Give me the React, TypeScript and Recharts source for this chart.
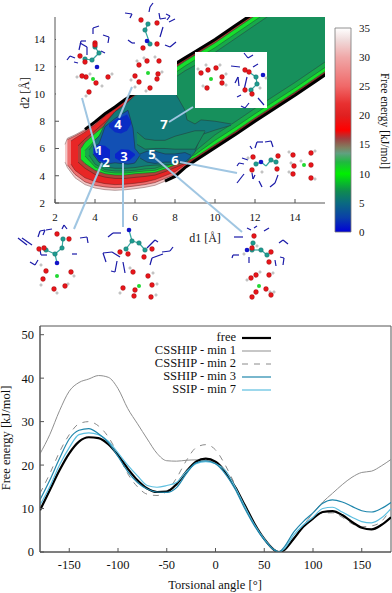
import React from "react";
import {
  Area,
  ComposedChart,
  Bar,
  BarChart,
  LabelList,
  Legend,
  Line,
  LineChart,
  ReferenceArea,
  ReferenceLine,
  Scatter,
  XAxis,
  YAxis,
} from "recharts";

const FONT = "'Liberation Serif', 'Times New Roman', serif";

// ---------- free energy map, d1 / d2 in angstrom ----------
const outerX = [2.5, 2.62, 3, 3.5, 4, 4.5, 5, 5.5, 6, 6.5, 7, 7.5, 8, 8.5, 9, 10, 11, 12, 13, 14, 15, 16];
const outerLo = [5.0, 4.6, 3.85, 3.35, 3.1, 2.98, 2.93, 2.97, 3.05, 3.15, 3.3, 3.6, 3.95, 4.6, 5.1, 6.05, 7.0, 8.0, 8.95, 9.9, 10.9, 11.9];
const outerHi = [6.3, 6.75, 7.0, 7.4, 7.95, 8.55, 9.05, 9.6, 10.05, 10.5, 11, 11.5, 12.2, 12.65, 13.1, 14, 15, 16, 17, 18, 19, 20];

const redAX = [2.62, 3, 3.5, 4, 4.5, 5, 5.5, 6, 6.5, 7, 7.5, 8, 8.5, 9, 16];
const redALo = [4.8, 4.1, 3.55, 3.3, 3.18, 3.12, 3.16, 3.25, 3.35, 3.5, 3.8, 4.1, 4.7, 5.15, 11.95];
const redAHi = [6.65, 6.92, 7.32, 7.87, 8.47, 8.97, 9.52, 9.97, 10.45, 10.92, 11.42, 12.12, 12.57, 13.02, 20];

const redBX = [2.8, 3, 3.5, 4, 4.5, 5, 5.5, 6, 6.5, 7, 7.5, 8, 8.5, 9, 16];
const redBLo = [4.85, 4.4, 3.85, 3.58, 3.42, 3.35, 3.38, 3.45, 3.55, 3.72, 4.0, 4.3, 4.8, 5.2, 12];
const redBHi = [6.55, 6.75, 7.2, 7.75, 8.38, 8.9, 9.45, 9.92, 10.4, 10.88, 11.38, 12.08, 12.52, 12.97, 20];

const darkRedX = [3.15, 3.5, 4, 4.5, 5, 5.5, 6, 6.5, 7, 7.5, 8, 8.5, 9, 16];
const darkRedLo = [5.0, 4.55, 4.1, 3.9, 3.8, 3.8, 3.88, 3.95, 4.05, 4.3, 4.6, 4.9, 5.25, 12.05];
const darkRedHi = [6.2, 6.7, 7.3, 7.95, 8.7, 9.3, 9.85, 10.35, 10.85, 11.35, 12, 12.45, 12.9, 19.9];

const brightX = [3.3, 3.5, 4, 4.5, 5, 5.5, 6, 6.5, 7, 7.5, 8, 8.5, 9, 10, 11, 12, 13, 14, 15, 16];
const brightLo = [5.2, 4.9, 4.4, 4.15, 4.05, 4.05, 4.15, 4.2, 4.25, 4.5, 4.8, 5.0, 5.35, 6.3, 7.25, 8.25, 9.2, 10.15, 11.15, 12.15];
const brightHi = [6.0, 6.45, 7.1, 7.7, 8.55, 9.15, 9.75, 10.3, 10.8, 11.3, 11.9, 12.4, 12.85, 13.75, 14.75, 15.75, 16.75, 17.75, 18.75, 19.75];

const stripeX = [3.5, 4, 4.5, 5, 5.5, 6, 6.5, 7, 7.5, 8, 8.5, 9, 10, 11, 12, 13, 14, 15, 16];
const stripeLo = [5.45, 4.65, 4.3, 4.2, 4.2, 4.28, 4.35, 4.4, 4.65, 4.98, 5.2, 5.55, 6.6, 7.55, 8.55, 9.5, 10.45, 11.45, 12.45];
const stripeHi = [5.85, 6.6, 7.4, 8.2, 8.9, 9.5, 10, 10.5, 11, 11.55, 12.05, 12.5, 13.4, 14.4, 15.4, 16.4, 17.4, 18.4, 19.4];

const mainX = [3.7, 4, 4.5, 5, 5.5, 6, 6.5, 7, 7.5, 8, 8.5, 9, 10, 11, 12, 13, 14, 15, 16];
const mainLo = [5.5, 4.85, 4.45, 4.35, 4.35, 4.4, 4.5, 4.55, 4.8, 5.15, 5.4, 5.8, 7.0, 7.95, 8.95, 9.9, 10.85, 11.85, 12.85];
const mainHi = [5.9, 6.5, 7.2, 8, 8.7, 9.3, 9.8, 10.2, 10.7, 11.2, 11.7, 12.1, 13.05, 14.05, 15.05, 16.05, 17.05, 18.05, 19.05];

const tealX = [3.9, 4.2, 4.5, 5, 5.5, 6, 6.5, 7, 7.5, 8, 8.5, 8.6, 9, 9.3, 10, 10.8];
const tealLo = [5.6, 5.0, 4.65, 4.55, 4.55, 4.6, 4.72, 4.78, 4.8, 4.85, 4.95, 5.0, 5.75, 7.0, 7.35, 7.7];
const tealHi = [6.5, 6.9, 7.8, 8.7, 9.2, 9.9, 10.1, 10.1, 10.1, 10.1, 8.8, 8.1, 7.8, 8.1, 8.0, 7.8];

const tongueX = [6.1, 6.5, 7, 7.5, 8, 8.5, 9, 9.5];
const tongueLo = [6.3, 5.95, 6.0, 6.0, 5.95, 5.95, 5.95, 7.25];
const tongueHi = [7.2, 6.7, 6.6, 6.6, 6.9, 7.1, 7.3, 7.3];

const armX = [6.25, 6.6, 7, 7.5, 8, 8.5, 8.8];
const armLo = [5.3, 5.0, 4.9, 5.0, 5.0, 5.0, 5.4];
const armHi = [5.6, 5.8, 5.8, 5.6, 5.6, 5.7, 5.5];

const blueX = [3.9, 4.2, 4.5, 5, 5.3, 5.65, 5.9, 6, 6.25];
const blueLo = [5.6, 5.0, 4.85, 4.95, 4.9, 4.85, 4.9, 4.95, 5.5];
const blueHi = [6.1, 6.35, 7.6, 8.2, 8.5, 8.8, 7.5, 6.0, 5.55];

const wellAX = [3.95, 4.2, 4.5, 4.75];
const wellALo = [5.6, 5.1, 5.0, 5.3];
const wellAHi = [6.1, 6.25, 6.2, 5.9];

const wellBX = [5, 5.3, 5.7, 6];
const wellBLo = [5.3, 5.05, 5.1, 5.5];
const wellBHi = [5.6, 5.95, 5.9, 5.6];

const wellCX = [4.7, 5, 5.3, 5.6, 5.8];
const wellCLo = [7.6, 7.2, 7.1, 7.3, 7.8];
const wellCHi = [7.8, 8.1, 8.3, 8.5, 8.0];

const mapTicksX = [2, 4, 6, 8, 10, 12, 14];
const mapTicksY = [2, 4, 6, 8, 10, 12, 14];

const band = (x: number[], lo: number[], hi: number[]) =>
  x.map((d, i) => ({ d1: d, range: [lo[i], hi[i]] }));
const edge = (x: number[], y: number[], from: number) =>
  x.map((d, i) => ({ d1: d, y: y[i] })).filter((p) => p.d1 >= from);

const layers = [
  { name: "rim", data: band(outerX, outerLo, outerHi), fill: "#f4c6c6", stroke: "#8a6a6a" },
  { name: "redA", data: band(redAX, redALo, redAHi), fill: "#ee6f6f", stroke: "#7a3030" },
  { name: "redB", data: band(redBX, redBLo, redBHi), fill: "#e82626", stroke: "#7a2020" },
  { name: "darkRed", data: band(darkRedX, darkRedLo, darkRedHi), fill: "#b04038", stroke: "#602020" },
  { name: "bright", data: band(brightX, brightLo, brightHi), fill: "#16e02c", stroke: "#1a6030" },
  { name: "stripe", data: band(stripeX, stripeLo, stripeHi), fill: "#18a84a", stroke: "#1a6030" },
  { name: "main", data: band(mainX, mainLo, mainHi), fill: "#17905c", stroke: "#234a44" },
  { name: "teal", data: band(tealX, tealLo, tealHi), fill: "#137a78", stroke: "#23403f" },
  { name: "tongue", data: band(tongueX, tongueLo, tongueHi), fill: "#178a62", stroke: "#23403f" },
  { name: "arm", data: band(armX, armLo, armHi), fill: "#105f9a", stroke: "#1c3048" },
  { name: "blue", data: band(blueX, blueLo, blueHi), fill: "#1250b4", stroke: "#1c3048" },
  { name: "wellA", data: band(wellAX, wellALo, wellAHi), fill: "#0a24cc", stroke: "none" },
  { name: "wellB", data: band(wellBX, wellBLo, wellBHi), fill: "#0a24cc", stroke: "none" },
  { name: "wellC", data: band(wellCX, wellCLo, wellCHi), fill: "#0a2cc4", stroke: "none" },
];

// ---------- colour bar ----------
const barValue = [{ name: "G", value: 35 }];
const barTicks = [0, 5, 10, 15, 20, 25, 30, 35];
const barStops: [number, string][] = [
  [0, "#0000d8"],
  [2.5, "#0a40a8"],
  [5, "#0a6a80"],
  [7, "#0f8a50"],
  [10, "#00f000"],
  [12, "#20b840"],
  [13.5, "#60a080"],
  [14.5, "#808060"],
  [16, "#a04040"],
  [17.5, "#ff0000"],
  [20, "#e02020"],
  [22, "#e83030"],
  [25, "#f06868"],
  [30, "#f0a8a8"],
  [33, "#f0dcdc"],
  [35, "#ffffff"],
];

// ---------- molecule insets, page pixels ----------
const insetBoxes = [
  [56, 0, 177, 95],
  [195, 52, 267, 108],
];
const oxygen = [
  [80, 56], [95, 43], [95, 45], [85, 62], [86, 77], [82, 76], [96, 83], [108, 77], [89, 92],
  [141, 20], [157, 23], [157, 44], [143, 48], [139, 65], [147, 61], [159, 61], [135, 76], [158, 74], [157, 79], [139, 82], [150, 88],
  [201, 73], [208, 70], [216, 68], [222, 77], [222, 83], [207, 88], [245, 70], [249, 72], [245, 90], [252, 94],
  [57, 234], [69, 239], [39, 249], [44, 248], [46, 271], [71, 272], [43, 279], [65, 286], [54, 289],
  [120, 252], [128, 254], [144, 257], [152, 249], [133, 272], [148, 276], [152, 285], [123, 288], [135, 290], [134, 296], [151, 297],
  [253, 157], [252, 170], [278, 156], [277, 169], [293, 155], [294, 166], [293, 174], [311, 153], [311, 165], [311, 178],
  [254, 236], [252, 248], [271, 252], [269, 262], [256, 275], [251, 278], [269, 275], [266, 289], [256, 292], [271, 295], [252, 297],
];
const carbon = [
  [85, 59], [92, 60], [99, 53], [95, 47],
  [148, 24], [145, 30], [150, 44],
  [256, 77], [257, 84], [251, 90],
  [63, 239], [62, 248], [46, 250], [55, 254],
  [132, 241], [139, 243], [126, 249], [145, 250],
  [256, 164], [271, 160], [276, 162],
  [253, 243], [261, 250], [267, 255], [252, 250],
];
const nitrogen = [[97, 67], [147, 41], [263, 75], [57, 263], [129, 230], [261, 162], [247, 250]];
const ion = [[93, 79], [148, 73], [211, 79], [57, 276], [139, 286], [304, 165], [259, 286]];
const hydrogen = [
  [77, 77], [90, 74], [102, 86], [112, 74], [86, 96], [137, 61], [144, 58], [155, 57], [131, 80], [162, 72], [135, 87], [146, 91],
  [198, 69], [206, 65], [220, 65], [226, 74], [226, 85], [203, 86], [260, 88], [266, 78],
  [41, 265], [74, 276], [41, 285], [68, 284], [57, 293], [120, 293], [130, 268], [153, 273], [157, 284], [156, 295],
  [289, 152], [291, 163], [289, 172], [315, 151], [315, 179], [301, 161], [262, 172], [248, 158],
  [260, 272], [247, 280], [273, 273], [270, 292], [274, 292], [257, 246], [244, 254],
];
const bonds = [
  [85, 59, 92, 60], [92, 60, 99, 53], [99, 53, 95, 47],
  [148, 24, 145, 30], [145, 30, 150, 44],
  [256, 77, 257, 84], [257, 84, 251, 90], [249, 72, 256, 77],
  [63, 239, 62, 248], [62, 248, 55, 254], [55, 254, 46, 250], [57, 263, 55, 254],
  [132, 241, 139, 243], [132, 241, 126, 249], [139, 243, 145, 250], [129, 230, 132, 241],
  [256, 164, 261, 162], [261, 162, 266, 166], [266, 166, 271, 160], [271, 160, 276, 162],
  [253, 243, 252, 250], [252, 250, 261, 250], [261, 250, 267, 255],
];
const brackets = [
  [93, 34, 93, 28], [93, 28, 99, 26], [103, 35, 109, 37], [109, 37, 108, 43], [79, 50, 81, 41], [81, 41, 86, 41],
  [80, 43, 87, 47], [87, 47, 87, 55], [67, 60, 70, 56], [70, 56, 75, 58], [74, 62, 78, 63], [101, 51, 105, 53],
  [125, 13, 132, 14], [132, 14, 130, 18], [153, 3, 150, 7], [150, 7, 149, 12], [159, 13, 160, 19], [160, 19, 166, 18],
  [166, 14, 170, 16], [170, 16, 167, 20], [169, 22, 175, 19], [163, 27, 160, 37], [176, 42, 170, 47], [170, 47, 165, 45],
  [128, 40, 132, 43], [132, 43, 135, 43],
  [231, 66, 240, 67], [244, 53, 248, 58], [248, 58, 253, 55], [253, 67, 258, 64], [235, 83, 238, 77], [238, 77, 239, 86],
  [247, 77, 244, 90], [237, 97, 241, 95], [241, 106, 245, 108], [245, 108, 249, 103], [258, 98, 264, 105],
  [18, 238, 27, 245], [22, 238, 32, 245], [38, 237, 40, 231], [40, 231, 45, 230], [45, 230, 43, 235], [46, 230, 52, 229],
  [62, 229, 64, 225], [64, 225, 67, 229], [80, 238, 87, 237], [87, 237, 88, 243], [40, 250, 41, 255], [41, 255, 47, 255],
  [72, 254, 77, 254], [30, 262, 35, 265], [35, 265, 38, 260],
  [108, 237, 113, 233], [113, 233, 121, 233], [106, 262, 103, 253], [103, 253, 112, 252], [112, 252, 120, 257],
  [117, 261, 115, 272], [115, 272, 111, 271], [123, 262, 125, 273], [147, 248, 155, 240], [155, 240, 158, 242],
  [150, 265, 152, 258], [152, 258, 163, 254], [162, 252, 170, 251], [170, 251, 173, 247],
  [250, 146, 252, 149], [255, 148, 257, 142], [257, 142, 263, 142], [265, 142, 271, 141], [271, 141, 273, 147],
  [237, 166, 239, 163], [239, 163, 244, 164], [242, 158, 248, 160], [244, 174, 237, 183], [252, 173, 253, 179],
  [253, 179, 255, 175], [259, 181, 262, 187], [270, 187, 275, 183], [275, 183, 278, 175],
  [247, 228, 251, 230], [254, 228, 257, 226], [264, 231, 269, 228], [234, 237, 243, 237], [232, 258, 233, 255],
  [233, 255, 239, 255], [249, 257, 249, 263], [279, 243, 283, 240], [283, 240, 288, 244], [280, 257, 284, 258],
  [284, 258, 283, 265], [275, 260, 276, 266],
];
const leaders = [
  [82, 98, 97, 153],
  [132, 87, 119, 118],
  [193, 107, 169, 122],
  [102, 163, 74, 229],
  [123, 163, 123, 227],
  [155, 158, 242, 232],
  [180, 162, 237, 173],
];
const minimaLabels = [
  { x: 99, y: 150, label: "1" },
  { x: 106, y: 162, label: "2" },
  { x: 124, y: 156, label: "3" },
  { x: 118, y: 124, label: "4" },
  { x: 152, y: 154, label: "5" },
  { x: 175, y: 160, label: "6" },
  { x: 164, y: 124, label: "7" },
];

const atoms = (list: number[][]) => list.map(([x, y]) => ({ x, y }));
const ball = (r: number, fill: string, stroke = "none") => (p: any) => (
  <circle cx={p.cx} cy={p.cy} r={r} fill={fill} stroke={stroke} strokeWidth={0.4} />
);

// ---------- torsional profiles ----------
const angle = [-180, -170, -160, -150, -140, -130, -120, -110, -100, -90, -80, -70, -60, -50, -40, -30, -20, -10, 0, 10, 20, 30, 40, 50, 60, 65, 70, 80, 90, 100, 110, 120, 130, 140, 150, 160, 170, 180];
const free = [9.6, 14.2, 18.8, 22.7, 25.4, 26.4, 26.2, 24.8, 22.3, 19.2, 16.5, 14.6, 13.8, 13.9, 15.6, 18.5, 20.8, 21.5, 20.8, 18.5, 15, 10.8, 6.5, 3, 0.5, 0, 0.4, 3, 5.8, 7.7, 9.2, 9.4, 8.5, 6.9, 5.6, 5.2, 6.2, 8];
const cssMin1 = [22.6, 27, 32.5, 37, 39, 39.8, 40.6, 40.2, 37.6, 33, 29.5, 26, 22.7, 21, 20.9, 21.1, 21.2, 21.1, 20.5, 18.7, 15.2, 10.9, 6.6, 3, 0.5, 0, 0.4, 3, 6, 9, 11.5, 13.5, 15.5, 17.2, 18.3, 18.6, 19.8, 21.3];
const cssMin2 = [13.5, 18, 23, 27, 29.5, 30, 29, 26.5, 22.5, 18, 15, 13.3, 13, 14, 17, 21, 24, 24.7, 23.5, 20, 15.5, 10.8, 6.5, 3, 0.5, 0, 0.3, 2.8, 5.6, 7.5, 9, 9, 8, 6.5, 5.8, 6, 7, 10];
const sshMin3 = [12, 16.5, 21.5, 26, 28, 28.4, 27.2, 25.2, 22, 18.5, 16, 14.5, 13.8, 13.7, 14.8, 18, 20.5, 21, 20.3, 18, 14.5, 10, 6, 2.8, 0.5, 0, 1, 4.5, 7, 9, 11.2, 12, 11.5, 10.5, 9.5, 9.2, 10, 11.4];
const ssipMin7 = [10.8, 15, 20, 24, 27, 27.4, 27, 25.5, 22.8, 20, 17.5, 15.3, 14.9, 15.3, 16, 18.5, 20.3, 20.8, 20.3, 18.8, 15, 10.5, 6.3, 3, 0.5, 0, 0.6, 3.8, 6.2, 8, 10, 10.3, 9.2, 8, 7, 6.7, 7.8, 10];

const profileTable = angle.map((a, i) => ({
  angle: a,
  free: free[i],
  cssMin1: cssMin1[i],
  cssMin2: cssMin2[i],
  sshMin3: sshMin3[i],
  ssipMin7: ssipMin7[i],
}));

const series = [
  { key: "cssMin1", name: "CSSHIP - min 1", color: "#8f8f8f", width: 1, dash: undefined },
  { key: "cssMin2", name: "CSSHIP - min 2", color: "#8a8a8a", width: 1, dash: "6 6" },
  { key: "free", name: "free", color: "#000000", width: 2.2, dash: undefined },
  { key: "ssipMin7", name: "SSIP - min 7", color: "#5cbfe0", width: 1.2, dash: undefined },
  { key: "sshMin3", name: "SSHIP - min 3", color: "#1f86ac", width: 1.2, dash: undefined },
];
const legendOrder = ["free", "cssMin1", "cssMin2", "sshMin3", "ssipMin7"];

const angleTicks = [-150, -100, -50, 0, 50, 100, 150];
const energyTicks = [0, 10, 20, 30, 40, 50];

function ProfileLegend() {
  return (
    <div style={{ fontFamily: FONT, fontSize: 12.5, color: "#111" }}>
      {legendOrder.map((k) => {
        const s = series.find((e) => e.key === k)!;
        return (
          <div key={k} style={{ display: "flex", alignItems: "center", height: 13.1, justifyContent: "flex-end" }}>
            <span style={{ marginRight: 6 }}>{s.name}</span>
            <svg width={29} height={6}>
              <line x1={0} x2={29} y1={3} y2={3} stroke={s.color} strokeWidth={s.width} strokeDasharray={s.dash} />
            </svg>
          </div>
        );
      })}
    </div>
  );
}

const place = (top: number, left = 0): React.CSSProperties => ({ position: "absolute", left, top });

export default function App() {
  return (
    <div style={{ position: "fixed", left: 0, top: 0, width: 392, height: 593, background: "#fff", overflow: "hidden" }}>
      {/* map */}
      <div style={place(0)}>
        <ComposedChart width={392} height={300} margin={{ top: 17, right: 67, bottom: 67, left: 0 }}>
          <XAxis
            dataKey="d1"
            type="number"
            domain={[2, 15.5]}
            allowDataOverflow
            ticks={mapTicksX}
            tickSize={-4}
            tickMargin={14}
            stroke="#555"
            height={30}
            tick={{ fontFamily: FONT, fontSize: 11, fill: "#111" }}
          />
          <YAxis
            type="number"
            domain={[2, 15.65]}
            allowDataOverflow
            ticks={mapTicksY}
            tickSize={-4}
            tickMargin={14}
            stroke="#555"
            width={55}
            tick={{ fontFamily: FONT, fontSize: 11, fill: "#111" }}
          />
          {layers.map((l) => (
            <Area
              key={l.name}
              data={l.data}
              dataKey="range"
              type="linear"
              fill={l.fill}
              fillOpacity={1}
              stroke={l.stroke}
              strokeWidth={0.6}
              dot={false}
              activeDot={false}
              isAnimationActive={false}
            />
          ))}
          <Line data={edge(outerX, outerHi, 3.5)} dataKey="y" stroke="#000" strokeWidth={3} dot={false} isAnimationActive={false} />
          <Line data={edge(outerX, outerLo, 7.5)} dataKey="y" stroke="#000" strokeWidth={3} dot={false} isAnimationActive={false} />
        </ComposedChart>
      </div>

      {/* colour bar */}
      <div style={place(0, 327)}>
        <BarChart width={65} height={240} data={barValue} margin={{ top: 28, right: 0, bottom: 8, left: 0 }} barCategoryGap={0}>
          <defs>
            <linearGradient id="energyScale" x1="0" y1="1" x2="0" y2="0">
              {barStops.map(([v, c]) => (
                <stop key={v} offset={v / 35} stopColor={c} />
              ))}
            </linearGradient>
          </defs>
          <XAxis dataKey="name" hide />
          <YAxis
            orientation="right"
            type="number"
            domain={[0, 35]}
            ticks={barTicks}
            axisLine={false}
            tickLine={false}
            tickSize={0}
            tickMargin={1}
            width={34}
            tick={{ fontFamily: FONT, fontSize: 11, fill: "#111" }}
          />
          <Bar dataKey="value" fill="url(#energyScale)" stroke="#777" strokeWidth={0.8} isAnimationActive={false} barSize={16} />
        </BarChart>
      </div>

      {/* insets, leaders, numbers */}
      <div style={place(0)}>
        <ComposedChart width={392} height={300} margin={{ top: 0, right: 0, bottom: 0, left: 0 }}>
          <XAxis type="number" dataKey="x" domain={[0, 392]} hide />
          <YAxis type="number" dataKey="y" domain={[0, 300]} reversed hide />
          {insetBoxes.map(([x1, y1, x2, y2]) => (
            <ReferenceArea key={x1} x1={x1} x2={x2} y1={y1} y2={y2} fill="#fff" fillOpacity={1} stroke="none" />
          ))}
          {bonds.map(([a, b, c, d], i) => (
            <ReferenceLine key={"b" + i} segment={[{ x: a, y: b }, { x: c, y: d }]} stroke="#35a8a0" strokeWidth={1.2} />
          ))}
          {brackets.map(([a, b, c, d], i) => (
            <ReferenceLine key={"q" + i} segment={[{ x: a, y: b }, { x: c, y: d }]} stroke="#1a1aa8" strokeWidth={1.2} />
          ))}
          {leaders.map(([a, b, c, d], i) => (
            <ReferenceLine key={"l" + i} segment={[{ x: a, y: b }, { x: c, y: d }]} stroke="#a0c6e2" strokeWidth={2} />
          ))}
          <Scatter data={atoms(hydrogen)} shape={ball(1.2, "#dcdcdc", "#888")} isAnimationActive={false} />
          <Scatter data={atoms(carbon)} shape={ball(2.3, "#1e9c90", "#0f5f5a")} isAnimationActive={false} />
          <Scatter data={atoms(oxygen)} shape={ball(2.4, "#e8141a", "#901010")} isAnimationActive={false} />
          <Scatter data={atoms(nitrogen)} shape={ball(2.3, "#1414c8")} isAnimationActive={false} />
          <Scatter data={atoms(ion)} shape={ball(2, "#22d832")} isAnimationActive={false} />
          <Scatter data={minimaLabels} shape={() => null} isAnimationActive={false}>
            <LabelList
              dataKey="label"
              position="center"
              fill="#fff"
              style={{ fontFamily: "'Open Sans', sans-serif", fontSize: 13, fontWeight: 700 }}
            />
          </Scatter>
        </ComposedChart>
      </div>

      {/* torsional profile */}
      <div style={place(300)}>
        <LineChart width={392} height={293} data={profileTable} margin={{ top: 26, right: 1, bottom: 16, left: 0 }}>
          <XAxis
            dataKey="angle"
            type="number"
            domain={[-180, 180]}
            allowDataOverflow
            ticks={angleTicks}
            tickSize={-4}
            tickMargin={12}
            stroke="#555"
            height={25}
            tick={{ fontFamily: FONT, fontSize: 12.5, fill: "#111" }}
          />
          <YAxis
            type="number"
            domain={[0, 52]}
            allowDataOverflow
            ticks={energyTicks}
            tickSize={-4}
            tickMargin={10}
            stroke="#555"
            width={40}
            tick={{ fontFamily: FONT, fontSize: 12.5, fill: "#111" }}
          />
          <ReferenceArea x1={-180} x2={180} y1={0} y2={52} fill="none" stroke="#555" />
          {series.map((s) => (
            <Line
              key={s.key}
              dataKey={s.key}
              name={s.name}
              type="monotone"
              stroke={s.color}
              strokeWidth={s.width}
              strokeDasharray={s.dash}
              dot={false}
              isAnimationActive={false}
            />
          ))}
          <Legend
            layout="vertical"
            align="center"
            verticalAlign="middle"
            content={ProfileLegend}
            wrapperStyle={{ position: "absolute", left: 120, top: 31, width: 151, height: 66, bottom: "auto", margin: 0 }}
          />
        </LineChart>
      </div>

      {/* axis titles */}
      <svg width={392} height={593} style={{ position: "absolute", left: 0, top: 0, pointerEvents: "none" }} fontFamily={FONT} fill="#111">
        <text x={205} y={242} fontSize={12} textAnchor="middle">d1 [Å]</text>
        <text transform="translate(29,93) rotate(-90)" fontSize={12} textAnchor="middle">d2 [Å]</text>
        <text transform="translate(381,121) rotate(90)" fontSize={11.5} textAnchor="middle">Free energy [kJ/mol]</text>
        <text x={215} y={589} fontSize={12.5} textAnchor="middle">Torsional angle [°]</text>
        <text transform="translate(10,438) rotate(-90)" fontSize={12.5} textAnchor="middle">Free energy [kJ/mol]</text>
      </svg>
    </div>
  );
}
